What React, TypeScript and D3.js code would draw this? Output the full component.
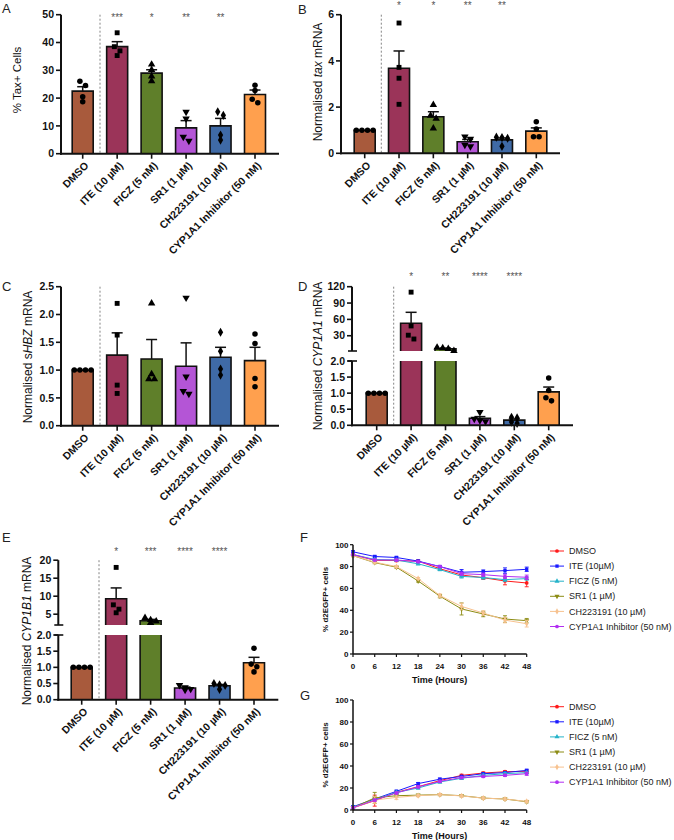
import React from "react";
import * as d3 from "d3";

// ---------- Data ----------
const categories = ["DMSO", "ITE (10 µM)", "FICZ (5 nM)", "SR1 (1 µM)", "CH223191 (10 µM)", "CYP1A1 Inhibitor (50 nM)"];

// A: % Tax+ cells
const taxCellsMean = [22.5, 38.5, 29.0, 9.3, 10.0, 21.3];
const taxCellsSem = [1.6, 1.8, 1.2, 2.6, 2.7, 1.6];
const taxCellsPoints = [[26.1, 24.5, 20.5, 18.7], [43.5, 38.5, 37.0, 35.3], [32.1, 30.2, 27.8, 26.1], [15.0, 12.6, 6.0, 4.6], [15.1, 13.8, 6.7, 4.9], [24.6, 22.7, 19.6, 18.3]];
const taxCellsSig = ["", "***", "*", "**", "**", ""];

// B: normalised tax mRNA
const taxMrnaMean = [1.0, 3.68, 1.58, 0.5, 0.58, 0.96];
const taxMrnaSem = [0, 0.75, 0.22, 0.1, 0.08, 0.14];
const taxMrnaPoints = [[1, 1, 1, 1], [5.64, 3.72, 3.25, 2.12], [2.1, 1.63, 1.5, 1.08], [0.72, 0.62, 0.36, 0.3], [0.7, 0.68, 0.65, 0.3], [1.37, 1.05, 0.72, 0.72]];
const taxMrnaSig = ["", "*", "*", "**", "**", ""];

// C: normalised sHBZ mRNA
const shbzMean = [1.0, 1.27, 1.2, 1.07, 1.23, 1.17];
const shbzSem = [0, 0.4, 0.35, 0.42, 0.18, 0.24];
const shbzPoints = [[1, 1, 1, 1], [2.2, 1.63, 0.73, 0.58], [2.2, 0.93, 0.84, 0.84], [2.3, 0.88, 0.62, 0.57], [1.68, 1.34, 1.02, 0.91], [1.65, 1.48, 0.85, 0.7]];
const shbzSig = ["", "", "", "", "", ""];

// D: normalised CYP1A1 mRNA
const cyp1a1Mean = [1.0, 53, 6.1, 0.22, 0.16, 1.04];
const cyp1a1Sem = [0, 20, 1.3, 0.05, 0.04, 0.15];
const cyp1a1Points = [[1, 1, 1, 1], [110, 48, 31, 24], [8.5, 7.5, 6, 2.5], [0.41, 0.2, 0.15, 0.12], [0.25, 0.23, 0.1, 0.06], [1.47, 1.08, 0.86, 0.76]];
const cyp1a1Sig = ["", "*", "**", "****", "****", ""];

// E: normalised CYP1B1 mRNA
const cyp1b1Mean = [1.0, 9.3, 3.2, 0.36, 0.43, 1.14];
const cyp1b1Sem = [0, 3.0, 0.35, 0.03, 0.04, 0.17];
const cyp1b1Points = [[1, 1, 1, 1], [18, 7.6, 6.4, 5.4], [4, 3.4, 3, 2.6], [0.45, 0.38, 0.33, 0.3], [0.5, 0.46, 0.44, 0.32], [1.59, 1.1, 1.02, 0.86]];
const cyp1b1Sig = ["", "*", "***", "****", "****", ""];

// F / G: time courses
const timeHours = [0, 6, 12, 18, 24, 30, 36, 42, 48];
const seriesNames = ["DMSO", "ITE (10µM)", "FICZ (5 nM)", "SR1 (1 µM)", "CH223191 (10 µM)", "CYP1A1 Inhibitor (50 nM)"];

const dmsoF = [90.8, 85.8, 85.5, 85.0, 78.0, 72.3, 69.8, 66.8, 65.0];
const iteF = [93.5, 89.2, 88.3, 85.0, 80.0, 74.8, 75.4, 76.3, 77.5];
const ficzF = [91.0, 86.5, 86.0, 82.5, 77.2, 71.0, 70.0, 68.0, 69.0];
const sr1F = [90.0, 83.6, 79.4, 66.8, 52.9, 41.2, 36.6, 32.0, 30.5];
const chF = [90.0, 84.0, 80.0, 69.0, 53.5, 43.5, 37.5, 31.0, 27.7];
const cypF = [91.0, 86.0, 86.0, 84.5, 80.0, 73.5, 72.6, 71.0, 70.2];
const dmsoFSem = [1, 1, 1, 1, 1, 1.5, 1.5, 3.5, 3.5];
const iteFSem = [1, 1, 1, 1, 1, 2.5, 1.5, 2.5, 2];
const ficzFSem = [1, 1, 1, 1, 1, 1.5, 1.5, 1.5, 1.5];
const sr1FSem = [1, 1, 1, 1, 1.5, 5.5, 2.5, 3, 2];
const chFSem = [1, 1, 1, 1, 1.5, 3, 2, 2.5, 3];
const cypFSem = [1, 1, 1, 1, 1, 1.5, 1.5, 2, 2];

const dmsoG = [2, 8.5, 16, 21.2, 26.7, 31.5, 33.6, 34.8, 35.2];
const iteG = [3, 10, 17, 24, 28, 30.5, 33, 34, 36];
const ficzG = [2.5, 9.5, 16, 20, 25.5, 28.8, 31.5, 33, 34];
const sr1G = [2, 11, 13, 13.5, 14, 13, 10.8, 10, 7.5];
const chG = [2, 9, 11.5, 13, 14, 12.8, 10.8, 10, 7.8];
const cypG = [2, 9, 15.5, 21, 26, 29.5, 30.5, 31.5, 33];
const dmsoGSem = [1, 5, 1, 1, 1, 1, 1, 1, 1];
const iteGSem = [1, 1, 1, 1, 1, 1, 1, 1, 1];
const ficzGSem = [1, 1, 1, 1, 1, 1, 1, 1, 1];
const sr1GSem = [1, 5, 1, 1, 1, 1, 1, 1, 1];
const chGSem = [1, 3, 2, 1, 1, 1, 1, 1, 1];
const cypGSem = [1, 1, 1, 1, 1, 1, 1, 1, 1.5];

// ---------- Styles ----------
const FONT = "'Liberation Sans', Arial, Helvetica, sans-serif";
const barColors = ["#A85A3C", "#9B3459", "#5F7F2A", "#B455D6", "#3F6AA6", "#FFA04E"];
const lineColors = ["#FF1A1A", "#1A1AFF", "#26B3C9", "#8C8C14", "#F7C28F", "#B22EF2"];
const symbolTypes = [d3.symbolCircle, d3.symbolSquare, d3.symbolTriangle, d3.symbolTriangle, d3.symbolDiamond, d3.symbolCircle];
const symbolRot = [0, 0, 0, 180, 0, 0];

type Seg = { domain: [number, number]; range: [number, number]; ticks: number[]; fmt: (v: number) => string };

function jitter(ys: number[], size: number, step: number): number[] {
  const idx = ys.map((_, i) => i).sort((a, b) => ys[a] - ys[b]);
  const off = new Array(ys.length).fill(0);
  let row: number[] = [];
  const flush = () => row.forEach((k, j) => (off[k] = (j - (row.length - 1) / 2) * step));
  for (const k of idx) {
    if (row.length && ys[k] - ys[row[0]] > size) {
      flush();
      row = [];
    }
    row.push(k);
  }
  flush();
  return off;
}

function Marker({ x, y, i, size, fill }: { x: number; y: number; i: number; size: number; fill: string }) {
  const p = d3.symbol().type(symbolTypes[i]).size(size)() as string;
  return <path d={p} transform={`translate(${x},${y}) rotate(${symbolRot[i]})`} fill={fill} />;
}

function BarPanel(props: {
  means: number[]; sems: number[]; points: number[][]; sig: string[];
  axisX: number; xEnd: number; firstX: number; lastX: number; dashX: number;
  segs: Seg[]; starY: number; title: React.ReactNode; titleX: number; titleY: number;
  letter: string; letterX: number; letterY: number; titleSize?: number;
}) {
  const { means, sems, points, sig, axisX, xEnd, firstX, lastX, dashX, segs, starY } = props;
  const x = d3.scalePoint<string>().domain(categories).range([firstX, lastX]);
  const scales = segs.map((s) => d3.scaleLinear().domain(s.domain).range(s.range));
  const baseY = segs[0].range[0];
  const topY = segs[segs.length - 1].range[1];
  const segOf = (v: number) => {
    for (let i = segs.length - 1; i > 0; i--) if (v > segs[i].domain[0]) return i;
    return 0;
  };
  const yPix = (v: number) => scales[segOf(v)](v);
  const bw = 21;
  return (
    <g>
      <text x={props.letterX} y={props.letterY} fontSize={13} fill="#222">{props.letter}</text>
      <text transform={`translate(${props.titleX},${props.titleY}) rotate(-90)`} textAnchor="middle" dy="0.35em" fontSize={props.titleSize ?? 12} fill="#111">{props.title}</text>
      <line x1={dashX} x2={dashX} y1={topY} y2={baseY} stroke="#777" strokeWidth={0.9} strokeDasharray="2,2" />
      {categories.map((c, ci) => {
        const cx = x(c)!;
        const xl = cx - bw / 2, xr = cx + bw / 2;
        const m = means[ci];
        return (
          <g key={c}>
            {segs.map((s, si) => {
              if (m <= s.domain[0]) return null;
              const y0 = scales[si](s.domain[0]);
              const closed = m <= s.domain[1];
              const y1 = scales[si](Math.min(m, s.domain[1]));
              const d = closed ? `M${xl},${y0}V${y1}H${xr}V${y0}` : `M${xl},${y0}V${y1}M${xr},${y1}V${y0}`;
              return (
                <g key={si}>
                  <rect x={xl} y={y1} width={bw} height={y0 - y1} fill={barColors[ci]} />
                  <path d={d} fill="none" stroke="#111" strokeWidth={1.6} />
                </g>
              );
            })}
          </g>
        );
      })}
      {categories.map((c, ci) => {
        const cx = x(c)!;
        const m = means[ci], s = sems[ci];
        if (!(s > 0)) return null;
        const sc = scales[segOf(m)];
        const ya = sc(m), yb = sc(m + s);
        return (
          <g key={c} stroke="#111" strokeWidth={1.5}>
            <line x1={cx} x2={cx} y1={ya} y2={yb} />
            <line x1={cx - 5.5} x2={cx + 5.5} y1={yb} y2={yb} />
          </g>
        );
      })}
      {categories.map((c, ci) => {
        const cx = x(c)!;
        const ys = points[ci].map(yPix);
        const off = jitter(ys, 4.5, 5.6);
        return (
          <g key={c}>
            {ys.map((py, k) => (
              <Marker key={k} x={cx + off[k]} y={py} i={ci} size={24} fill="#000" />
            ))}
          </g>
        );
      })}
      {segs.map((s, si) => (
        <g key={si}>
          <line x1={axisX} x2={axisX} y1={s.range[0] + (si === 0 ? 1 : 0)} y2={s.range[1]} stroke="#111" strokeWidth={2} />
          {s.ticks.map((t) => (
            <g key={t}>
              <line x1={axisX - 5} x2={axisX} y1={scales[si](t)} y2={scales[si](t)} stroke="#111" strokeWidth={1.6} />
              <text x={axisX - 7} y={scales[si](t)} dy="0.35em" textAnchor="end" fontSize={10.5} fontWeight="bold" fill="#111">{s.fmt(t)}</text>
            </g>
          ))}
          {segs.length > 1 && si > 0 && (
            <line x1={axisX - 4} x2={axisX + 5} y1={s.range[0]} y2={s.range[0]} stroke="#111" strokeWidth={1.6} />
          )}
          {segs.length > 1 && si === 0 && (
            <line x1={axisX - 4} x2={axisX + 5} y1={s.range[1]} y2={s.range[1]} stroke="#111" strokeWidth={1.6} />
          )}
        </g>
      ))}
      <line x1={axisX - 1} x2={xEnd} y1={baseY} y2={baseY} stroke="#111" strokeWidth={2} />
      {categories.map((c, ci) => {
        const cx = x(c)!;
        return (
          <g key={c}>
            <line x1={cx} x2={cx} y1={baseY} y2={baseY + 5} stroke="#111" strokeWidth={1.6} />
            <text transform={`translate(${cx + 4},${baseY + 10}) rotate(-45)`} textAnchor="end" dy="0.35em" fontSize={10.5} fontWeight="bold" fill="#111">{c}</text>
            {sig[ci] && (
              <text x={cx} y={starY} textAnchor="middle" fontSize={10} fill="#555">{sig[ci]}</text>
            )}
          </g>
        );
      })}
    </g>
  );
}

type Series = { name: string; values: number[]; sems: number[]; color: string; sym: number };

function LinePanel({ series, yTop, yBottom, legendY0, letter, letterY }: { series: Series[]; yTop: number; yBottom: number; legendY0: number; letter: string; letterY: number }) {
  const axisX = 353;
  const x = d3.scaleLinear().domain([0, 48]).range([axisX, 526.7]);
  const y = d3.scaleLinear().domain([0, 100]).range([yBottom, yTop]);
  const line = d3.line<number>().x((_, i) => x(timeHours[i])).y((v) => y(v));
  const yTicks = [0, 20, 40, 60, 80, 100];
  return (
    <g>
      <text x={300} y={letterY} fontSize={13} fill="#222">{letter}</text>
      <text transform={`translate(${325},${(yTop + yBottom) / 2}) rotate(-90)`} textAnchor="middle" dy="0.35em" fontSize={8} fontWeight="bold" fill="#111">% d2EGFP+ cells</text>
      {series.map((s) => (
        <g key={s.name}>
          {s.values.map((v, i) => {
            const cx = x(timeHours[i]);
            const e = s.sems[i];
            return (
              <g key={i} stroke={s.color} strokeWidth={0.9}>
                <line x1={cx} x2={cx} y1={y(v - e)} y2={y(v + e)} />
                <line x1={cx - 2} x2={cx + 2} y1={y(v - e)} y2={y(v - e)} />
                <line x1={cx - 2} x2={cx + 2} y1={y(v + e)} y2={y(v + e)} />
              </g>
            );
          })}
          <path d={line(s.values) as string} fill="none" stroke={s.color} strokeWidth={1} />
          {s.values.map((v, i) => (
            <Marker key={i} x={x(timeHours[i])} y={y(v)} i={s.sym} size={11} fill={s.color} />
          ))}
        </g>
      ))}
      <line x1={axisX} x2={axisX} y1={yTop} y2={yBottom} stroke="#111" strokeWidth={1.5} />
      <line x1={axisX} x2={526.7} y1={yBottom} y2={yBottom} stroke="#111" strokeWidth={1.5} />
      {yTicks.map((t) => (
        <g key={t}>
          <line x1={axisX - 3} x2={axisX} y1={y(t)} y2={y(t)} stroke="#111" strokeWidth={1.2} />
          <text x={axisX - 4.5} y={y(t)} dy="0.35em" textAnchor="end" fontSize={8} fontWeight="bold" fill="#111">{t}</text>
        </g>
      ))}
      {timeHours.map((t) => (
        <g key={t}>
          <line x1={x(t)} x2={x(t)} y1={yBottom} y2={yBottom + 3} stroke="#111" strokeWidth={1.2} />
          <text x={x(t)} y={yBottom + 12} dy="0.35em" textAnchor="middle" fontSize={8} fontWeight="bold" fill="#111">{t}</text>
        </g>
      ))}
      <text x={439.7} y={yBottom + 25.5} dy="0.35em" textAnchor="middle" fontSize={9} fontWeight="bold" fill="#111">Time (Hours)</text>
      {series.map((s, i) => {
        const ly = legendY0 + i * 15.1;
        return (
          <g key={s.name}>
            <line x1={550} x2={564} y1={ly} y2={ly} stroke={s.color} strokeWidth={1} />
            <Marker x={557} y={ly} i={s.sym} size={11} fill={s.color} />
            <text x={569} y={ly} dy="0.35em" fontSize={9} fill="#222">{s.name}</text>
          </g>
        );
      })}
    </g>
  );
}

const fmtInt = (v: number) => d3.format("d")(v);
const fmt1 = (v: number) => d3.format(".1f")(v);

export default function App() {
  const seriesF: Series[] = [dmsoF, iteF, ficzF, sr1F, chF, cypF].map((v, i) => ({
    name: seriesNames[i], values: v, sems: [dmsoFSem, iteFSem, ficzFSem, sr1FSem, chFSem, cypFSem][i], color: lineColors[i], sym: i,
  }));
  const seriesG: Series[] = [dmsoG, iteG, ficzG, sr1G, chG, cypG].map((v, i) => ({
    name: seriesNames[i], values: v, sems: [dmsoGSem, iteGSem, ficzGSem, sr1GSem, chGSem, cypGSem][i], color: lineColors[i], sym: i,
  }));
  return (
    <svg width={674} height={840} style={{ position: "absolute", left: 0, top: 0, background: "#fff" }} fontFamily={FONT}>
      <rect width={674} height={840} fill="#fff" />
      <BarPanel
        means={taxCellsMean} sems={taxCellsSem} points={taxCellsPoints} sig={taxCellsSig}
        axisX={61} xEnd={279} firstX={82.7} lastX={255} dashX={100}
        segs={[{ domain: [0, 50], range: [153.7, 14.7], ticks: [0, 10, 20, 30, 40, 50], fmt: fmtInt }]}
        starY={21} title={"% Tax+ Cells"} titleX={17} titleY={80} titleSize={11.5}
        letter="A" letterX={2} letterY={13}
      />
      <BarPanel
        means={taxMrnaMean} sems={taxMrnaSem} points={taxMrnaPoints} sig={taxMrnaSig}
        axisX={341} xEnd={560} firstX={364.7} lastX={536.3} dashX={381.3}
        segs={[{ domain: [0, 6], range: [153.3, 14.7], ticks: [0, 2, 4, 6], fmt: fmtInt }]}
        starY={9} title={<>Normalised <tspan fontStyle="italic">tax</tspan> mRNA</>} titleX={318} titleY={82}
        letter="B" letterX={298} letterY={14}
      />
      <BarPanel
        means={shbzMean} sems={shbzSem} points={shbzPoints} sig={shbzSig}
        axisX={61} xEnd={279} firstX={82.7} lastX={255} dashX={100}
        segs={[{ domain: [0, 2.5], range: [425.7, 286.7], ticks: [0, 0.5, 1, 1.5, 2, 2.5], fmt: fmt1 }]}
        starY={290} title={<>Normalised s<tspan fontStyle="italic">HBZ</tspan> mRNA</>} titleX={28} titleY={357}
        letter="C" letterX={2} letterY={291}
      />
      <BarPanel
        means={cyp1a1Mean} sems={cyp1a1Sem} points={cyp1a1Points} sig={cyp1a1Sig}
        axisX={352} xEnd={573} firstX={376.7} lastX={548.7} dashX={393.7}
        segs={[
          { domain: [0, 2], range: [425.3, 361], ticks: [0, 0.5, 1, 1.5, 2], fmt: fmt1 },
          { domain: [2, 120], range: [351, 286.7], ticks: [30, 60, 90, 120], fmt: fmtInt },
        ]}
        starY={279.5} title={<>Normalised <tspan fontStyle="italic">CYP1A1</tspan> mRNA</>} titleX={318} titleY={356}
        letter="D" letterX={298} letterY={291}
      />
      <BarPanel
        means={cyp1b1Mean} sems={cyp1b1Sem} points={cyp1b1Points} sig={cyp1b1Sig}
        axisX={58.3} xEnd={278.3} firstX={81.7} lastX={254} dashX={99}
        segs={[
          { domain: [0, 2], range: [699.7, 635], ticks: [0, 0.5, 1, 1.5, 2], fmt: fmt1 },
          { domain: [2, 20], range: [625, 560.2], ticks: [5, 10, 15, 20], fmt: fmtInt },
        ]}
        starY={554.5} title={<>Normalised <tspan fontStyle="italic">CYP1B1</tspan> mRNA</>} titleX={27} titleY={631}
        letter="E" letterX={2} letterY={542}
      />
      <LinePanel series={seriesF} yTop={544.7} yBottom={654} legendY0={551} letter="F" letterY={542} />
      <LinePanel series={seriesG} yTop={700} yBottom={810} legendY0={706.7} letter="G" letterY={700} />
    </svg>
  );
}
